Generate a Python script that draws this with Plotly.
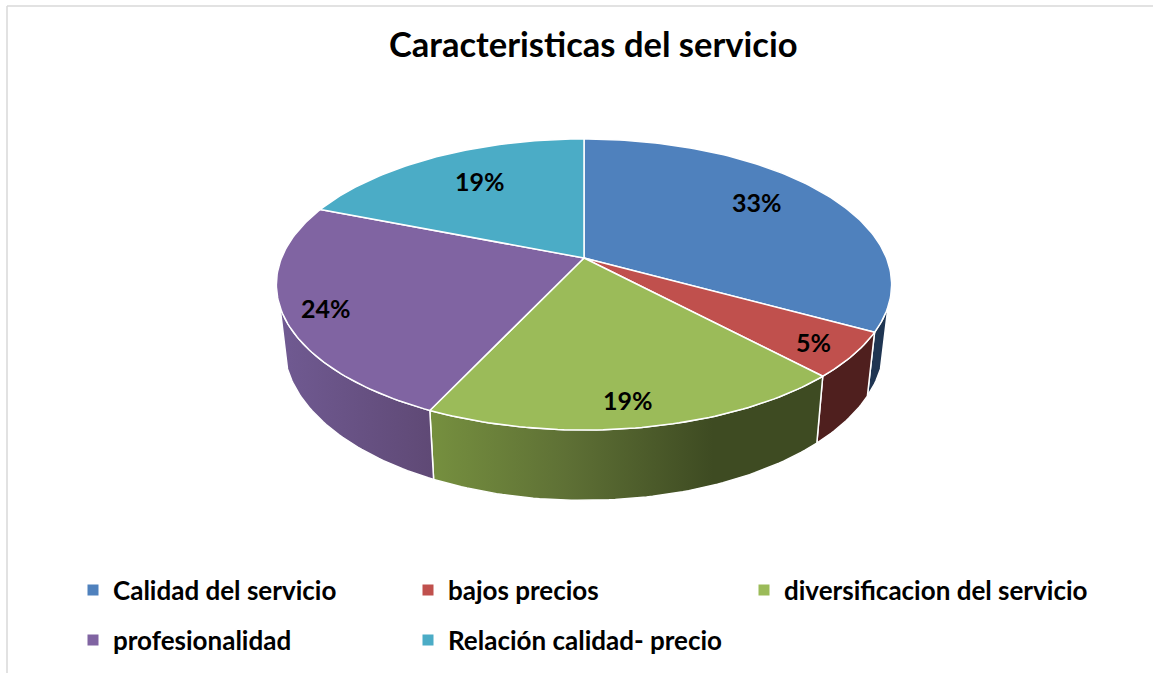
import numpy as np
import plotly.graph_objects as go

# ---- data ----
categories = ["Calidad del servicio", "bajos precios", "diversificacion del servicio",
              "profesionalidad", "Relación calidad- precio"]
shares = [33, 5, 19, 24, 19]
title_text = "Caracteristicas del servicio"

# ---- styles ----
top_colors = ["#4F81BD", "#C0504D", "#9BBB59", "#8064A2", "#4BACC6"]
wall_fills = [
    dict(fillcolor="#1F3552"),
    dict(fillcolor="#4F1F1E"),
    dict(fillgradient=dict(type="horizontal", colorscale=[[0, "#76903F"], [0.35, "#5E7035"], [0.72, "#3E4B22"], [1, "#3E4B22"]])),
    dict(fillgradient=dict(type="horizontal", colorscale=[[0, "#705A92"], [1, "#5F4975"]])),
    None,
]
FONT = "Lato"

# ---- projection of the tilted disc onto the page (pixels) ----
W, H = 1153, 673
CX, CY = 584, 258
A, B, K = 302.5, 140.7, 0.182
A_LOW, B_LOW, Y_LOW = 295, 150, 317
VISIBLE = (109, 251)  # part of the rim whose wall faces the viewer, in degrees


def top_rim(deg):
    t = np.radians(deg)
    u, v = np.sin(t), np.cos(t)
    d = 1 + K * v
    return CX + A * u / d, CY - B * v / d


def low_rim(deg):
    t = np.radians(deg)
    u, v = np.sin(t), np.cos(t)
    d = 1 + K * v
    return CX + A_LOW * u / d, Y_LOW - B_LOW * v / d


def arc(a, b):
    return np.linspace(a, b, max(int(abs(b - a)), 2) + 1)


edges = 360 * np.cumsum([0] + shares) / sum(shares)
fig = go.Figure()

# walls
for i in range(len(shares)):
    a, b = max(edges[i], VISIBLE[0]), min(edges[i + 1], VISIBLE[1])
    if b <= a or wall_fills[i] is None:
        continue
    xt, yt = top_rim(arc(a, b))
    xl, yl = low_rim(arc(b, a))
    fig.add_trace(go.Scatter(
        x=np.r_[xt, xl, xt[0]], y=np.r_[yt, yl, yt[0]], mode="lines", fill="toself",
        line=dict(color="white", width=1.5), showlegend=False, hoverinfo="skip",
        **wall_fills[i]))

# top face
for i in range(len(shares)):
    xt, yt = top_rim(arc(edges[i], edges[i + 1]))
    fig.add_trace(go.Scatter(
        x=np.r_[CX, xt, CX], y=np.r_[CY, yt, CY], mode="lines", fill="toself",
        fillcolor=top_colors[i], line=dict(color="white", width=1.5),
        showlegend=False, hoverinfo="skip"))

# legend entries, each in its own legend so that long names are not clipped
legend_ids = ["legend", "legend2", "legend3", "legend4", "legend5"]
legend_xy = [(73, 590), (408, 590), (744, 590), (73, 640), (408, 640)]
legend_style = dict(
    orientation="h", xanchor="left", yanchor="middle", bgcolor="rgba(0,0,0,0)",
    itemclick=False, itemdoubleclick=False,
    font=dict(family=FONT, size=26, color="black", weight=700))
legend_layout = {}
for i, name in enumerate(categories):
    fig.add_trace(go.Scatter(
        x=[None], y=[None], mode="markers", name=name, showlegend=True,
        marker=dict(symbol="square", size=11, color=top_colors[i]),
        legend=legend_ids[i]))
    lx, ly = legend_xy[i]
    legend_layout[legend_ids[i]] = dict(x=lx / W, y=1 - ly / H, **legend_style)

# label anchors (layout, pixels)
label_xy = [(757, 202), (813, 342), (628, 400), (326, 308), (480, 181)]
annotations = [
    dict(x=lx, y=ly, xref="x", yref="y", text=f"{v}%", showarrow=False,
         font=dict(family=FONT, size=25, color="black", weight=700))
    for (lx, ly), v in zip(label_xy, shares)
]
annotations.append(dict(
    x=593, y=43, xref="x", yref="y", text=title_text, showarrow=False,
    font=dict(family=FONT, size=34.5, color="black", weight=700)))

fig.update_layout(
    width=W, height=H, margin=dict(l=0, r=0, t=0, b=0),
    paper_bgcolor="white", plot_bgcolor="white", autosize=False,
    xaxis=dict(range=[0, W], visible=False, fixedrange=True),
    yaxis=dict(range=[H, 0], visible=False, fixedrange=True),
    annotations=annotations,
    shapes=[
        dict(type="line", x0=7, x1=W, y0=6, y1=6, xref="x", yref="y", line=dict(color="#D9D9D9", width=1.5)),
        dict(type="line", x0=7, x1=7, y0=6, y1=H, xref="x", yref="y", line=dict(color="#D9D9D9", width=1.5)),
    ],
    **legend_layout,
)
fig.write_html("out.html", config=dict(displayModeBar=False),
               post_script="document.body.style.margin='0';document.body.style.overflow='hidden';")
